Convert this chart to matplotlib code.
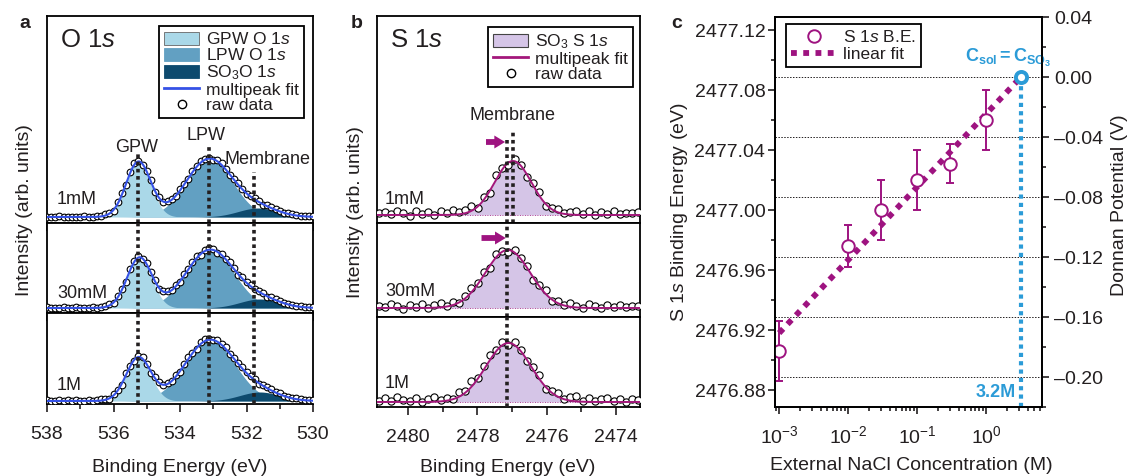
import numpy as np
import matplotlib
matplotlib.use('Agg')
import matplotlib.pyplot as plt
from matplotlib.lines import Line2D
from matplotlib.patches import Patch
from matplotlib.ticker import MultipleLocator, FuncFormatter

plt.rcParams['font.family'] = ['Liberation Sans', 'DejaVu Sans']
plt.rcParams['mathtext.fontset'] = 'custom'
plt.rcParams['mathtext.rm'] = 'Liberation Sans'
plt.rcParams['mathtext.it'] = 'Liberation Sans:italic'
plt.rcParams['mathtext.bf'] = 'Liberation Sans:bold'
plt.rcParams['text.color'] = '#231f20'
plt.rcParams['xtick.color'] = '#231f20'
plt.rcParams['ytick.color'] = '#231f20'

# ---------------- data ----------------
conc_labels = ['1mM', '30mM', '1M']

# O 1s fitted components per concentration: (center eV, height, sigma)
o_gpw = [(535.25, 55, 0.37), (535.22, 50, 0.37), (535.25, 43, 0.37)]
o_lpw = [(533.12, 58, 0.70), (533.10, 58, 0.72), (533.10, 61, 0.75)]
o_so3 = [(531.65, 9, 0.60), (531.60, 9, 0.60), (531.60, 9, 0.60)]

# O 1s raw data, as deviation from the fit (538 -> 530 eV)
o_resid = [
    [0.4, -0.3, 0.2, 0.5, -0.2, 0.3, 0.1, -0.4, 0.3, 0.6, 0.2, -0.1, 0.5,
     0.8, 1.2, 0.4, -0.8, 1.3, 1.8, -1.0, 1.5, 2.2, 0.6, -1.2, 1.0, 1.6, -0.9, 0.7, -0.5, 1.1, 0.4,
     -0.6, 1.3, 0.9, -1.1, 1.5, 0.8, 1.9, 1.2, 0.6, -0.7, 1.4, 1.7, 0.3, -0.9, 1.2, 1.5, 0.8,
     -0.4, 1.0, 1.4, 0.7, -0.3, 0.9, 1.1, 0.5, 0.2, -0.2, 0.6, 0.8, 0.4, -0.1, 0.5, 0.3, 0.6],
    [0.5, 0.2, -0.3, 0.4, 0.6, -0.1, 0.3, 0.5, -0.2, 0.4, 0.1, 0.6, 0.3,
     1.0, 0.5, 1.4, -0.6, 1.2, 0.8, -1.3, 1.6, 0.4, 1.9, -0.8, 1.1, 0.6, 1.5, -0.4, 0.9, 1.3, 0.2,
     1.0, -0.8, 1.6, 0.5, 1.2, 2.0, -0.6, 1.4, 1.8, 0.7, -0.9, 1.3, 0.6, 1.7, 1.1, -0.5, 1.5,
     0.9, 1.6, 0.4, 1.2, 0.8, -0.3, 1.0, 0.6, 0.9, 0.3, 0.7, 0.5, 0.2, 0.6, 0.4, 0.1, 0.5],
    [0.6, -0.2, 0.4, 0.8, 0.1, 0.5, -0.3, 0.7, 0.2, 0.4, 0.9, 0.3, 0.6,
     1.1, 0.4, -0.7, 1.5, 0.9, -1.1, 1.7, 0.6, -0.9, 1.3, 2.0, 0.3, -1.0, 1.4, 0.8, -0.6, 1.2, 0.5,
     1.3, -0.7, 0.9, 1.8, 0.4, -1.0, 1.6, 2.1, 0.8, -0.5, 1.4, 1.0, 1.9, -0.7, 1.3, 0.6, 1.7,
     1.2, 0.5, 1.5, -0.4, 1.1, 0.8, 1.3, 0.4, 0.9, 0.2, 0.7, 0.5, 0.8, 0.3, 0.6, 0.4, 0.7],
]
o_marks = [535.25, 533.12, 531.78]

# S 1s fitted peak per concentration: (center eV, height, sigma)
s_peak = [(2476.97, 54, 0.53), (2477.12, 58, 0.65), (2477.10, 59, 0.65)]
s_resid = [
    [1.5, 3.2, 0.5, 4.0, 2.1, -0.8, 3.5, 1.2, 2.8, 0.4, 3.9, 1.6, 4.5, 2.0, 3.3, 5.0, -1.5, 2.5,
     -3.0, 4.2, 1.0, -2.5, 2.0, 0.8, -1.8, 2.6, 3.5, -2.2, 1.5, 3.8, 0.6, 2.9, 4.1, 1.2, 3.5, 0.2,
     2.7, 1.4, 3.6, 0.8, 2.2, 1.5, 3.0],
    [2.0, 0.5, 3.6, 1.8, -1.0, 2.9, 1.2, 3.8, 0.3, 2.4, 4.2, 1.0, 3.1, -0.5, 2.6, 4.8, 1.5, 3.2,
     -2.0, 2.8, 1.2, -1.6, 3.0, 0.5, 2.2, -2.4, 1.8, 3.4, -1.2, 2.5, 0.8, 3.6, 1.4, -0.6, 4.0, 1.8,
     0.4, 2.9, 1.1, 3.3, 0.6, 2.4, 1.5],
    [1.2, 3.5, 0.8, 4.6, 2.0, 1.1, 3.8, 0.2, 2.5, 5.2, 1.4, 3.0, 0.6, 4.4, 2.2, 5.5, 1.0, 3.6,
     4.8, 1.5, 2.8, -2.2, 3.2, 1.0, -1.5, 2.4, 3.8, -2.6, 1.6, 4.0, 0.5, 3.4, 5.0, 1.2, 3.9, 0.7,
     2.6, 4.4, 1.0, 3.1, 0.4, 2.7, 1.6],
]
s_line_1mM = 2476.97
s_line_shift = 2477.14

# panel c
c_conc = [0.001, 0.01, 0.03, 0.1, 0.3, 1.0]
c_be = [2476.906, 2476.976, 2477.000, 2477.020, 2477.031, 2477.060]
c_err = [0.020, 0.014, 0.020, 0.020, 0.013, 0.020]
fit_x = [0.001, 3.2]
fit_y = [2476.918, 2477.0887]
be_zero = 2477.0887          # binding energy where Donnan potential = 0
donnan_grid = [0.0, -0.04, -0.08, -0.12, -0.16, -0.20]

# ---------------- style ----------------
c_gpw, c_lpw, c_so3, c_ofit = '#aad8e8', '#62a0c2', '#0d4a6e', '#3552e6'
c_spur, c_sfit = '#d5c5e7', '#a3177b'
mag, blue = '#9e1380', '#2b9bd7'
W, H = 1127, 476
dot = (0, (1, 1))
arrow = dict(arrowstyle='simple,head_length=0.7,head_width=0.85,tail_width=0.38',
             color=mag, lw=0, shrinkA=0, shrinkB=0, mutation_scale=11)


def rect(x0, y0, x1, y1):
    return [x0 / W, 1 - y1 / H, (x1 - x0) / W, (y1 - y0) / H]


def gauss(x, center, height, sigma):
    return height * np.exp(-0.5 * ((x - center) / sigma) ** 2)


def style_spectrum_axis(ax, xlim, show_labels):
    ax.set_xlim(*xlim)
    ax.set_yticks([])
    ax.xaxis.set_major_locator(MultipleLocator(2))
    ax.xaxis.set_minor_locator(MultipleLocator(1))
    ax.tick_params(axis='x', which='major', direction='out', length=6, width=1.2,
                   labelsize=14, pad=10, labelbottom=show_labels)
    ax.tick_params(axis='x', which='minor', direction='out', length=3.5, width=1.2)
    for s in ax.spines.values():
        s.set_linewidth(1.3)


def add_legend(ax, handles, anchor, loc='upper right', **kw):
    leg = ax.legend(handles=handles, loc=loc, bbox_to_anchor=anchor, borderaxespad=0,
                    fancybox=False, edgecolor='black', framealpha=1, fontsize=12.5,
                    handletextpad=0.4, borderpad=0.3, **kw)
    leg.get_frame().set_linewidth(1.3)
    leg.set_zorder(10)
    return leg


fig = plt.figure(figsize=(W / 100, H / 100), dpi=100)

# ---------------- panel a ----------------
o_rows = [(47, 16, 313, 223), (47, 223, 313, 313), (47, 313, 313, 404)]
o_ylims = [(-6, 201), (-5, 85), (-3, 88)]
o_text_y = [17, 14, 16]
o_mark_tops = [65, 72, 45]

for i in range(3):
    ax = fig.add_axes(rect(*o_rows[i]))
    e = np.linspace(538, 530, 600)
    lpw = gauss(e, *o_lpw[i])
    gpw = gauss(e, *o_gpw[i])
    so3 = gauss(e, *o_so3[i])
    ax.fill_between(e, 0, lpw, color=c_lpw, lw=0, zorder=1)
    ax.fill_between(e, 0, gpw, color=c_gpw, lw=0, zorder=1.1)
    ax.fill_between(e, 0, so3, color=c_so3, lw=0, zorder=1.2)

    er = np.linspace(538, 530, len(o_resid[i]))
    raw = gauss(er, *o_lpw[i]) + gauss(er, *o_gpw[i]) + gauss(er, *o_so3[i]) + np.array(o_resid[i])
    ax.plot(er, raw, 'o', mfc='white', mec='black', ms=4.8, mew=0.8, zorder=3)
    ax.plot(e, lpw + gpw + so3, color=c_ofit, lw=1.5, zorder=4)

    ylo, yhi = o_ylims[i]
    ax.set_ylim(ylo, yhi)
    for k, xm in enumerate(o_marks):
        top = 1.0 if i > 0 else (o_mark_tops[k] - ylo) / (yhi - ylo)
        ax.axvline(xm, ymin=0, ymax=top, color='#231f20', lw=2.6, ls=dot, zorder=5)
    ax.text(537.7, o_text_y[i], conc_labels[i], fontsize=13, va='center', ha='left')
    style_spectrum_axis(ax, (538, 530), i == 2)

    if i == 0:
        ax.text(537.61, 177, r'O $\mathit{1s}$', fontsize=18.5, va='center', ha='left')
        ax.text(535.3, 70, 'GPW', fontsize=13, ha='center', va='center')
        ax.text(533.23, 82, 'LPW', fontsize=13, ha='center', va='center')
        ax.text(531.37, 57, 'Membrane', fontsize=13, ha='center', va='center')
        handles = [
            Patch(facecolor=c_gpw, edgecolor='#666666', lw=0.6, label=r'GPW O $\mathit{1s}$'),
            Patch(facecolor=c_lpw, edgecolor=c_lpw, lw=0.6, label=r'LPW O $\mathit{1s}$'),
            Patch(facecolor=c_so3, edgecolor=c_so3, lw=0.6, label=r'SO$_3$O $\mathit{1s}$'),
            Line2D([], [], color=c_ofit, lw=2, label='multipeak fit'),
            Line2D([], [], marker='o', ls='none', mfc='white', mec='black', ms=6, mew=1,
                   label='raw data'),
        ]
        add_legend(ax, handles, (1 - 9 / 266, 1 - 10 / 207), handlelength=2.0,
                   handleheight=0.8, labelspacing=0.0)

fig.text(25 / W, 1 - 210 / H, 'Intensity (arb. units)', rotation=90, fontsize=14,
         ha='center', va='center')
fig.text(180 / W, 1 - 467 / H, 'Binding Energy (eV)', fontsize=14, ha='center', va='center')
fig.text(25 / W, 1 - 24 / H, 'a', fontsize=14, weight='bold', ha='center', va='center')

# ---------------- panel b ----------------
s_rows = [(377, 16, 640, 223), (377, 223, 640, 317), (377, 317, 640, 407)]
s_ylims = [(-8, 199), (-9, 85), (-5, 85)]
s_text_y = [15, 16, 19]
s_xlim = (2480.9, 2473.3)

for i in range(3):
    ax = fig.add_axes(rect(*s_rows[i]))
    e = np.linspace(s_xlim[0], s_xlim[1], 600)
    peak = gauss(e, *s_peak[i])
    ax.fill_between(e, 0, peak, color=c_spur, lw=0, zorder=1)
    ax.axhline(0, color=c_sfit, lw=0.6, ls=(0, (1, 2)), zorder=1.5)

    er = np.linspace(s_xlim[0] - 0.05, s_xlim[1] + 0.05, len(s_resid[i]))
    raw = gauss(er, *s_peak[i]) + np.array(s_resid[i])
    ax.plot(er, raw, 'o', mfc='white', mec='black', ms=5.2, mew=0.8, zorder=3)
    ax.plot(e, peak, color=c_sfit, lw=1.4, zorder=4)

    ylo, yhi = s_ylims[i]
    ax.set_ylim(ylo, yhi)
    if i == 0:
        ax.axvline(s_line_1mM, ymin=0, ymax=(83 - ylo) / (yhi - ylo), color='#231f20', lw=2.6,
                   ls=dot, zorder=5)
        ax.axvline(s_line_shift, ymin=0, ymax=(75 - ylo) / (yhi - ylo), color='#231f20', lw=2.6,
                   ls=dot, zorder=5)
        ax.annotate('', xy=(2477.20, 73), xytext=(2477.75, 73), arrowprops=arrow)
        ax.text(s_line_1mM, 100, 'Membrane', fontsize=13, ha='center', va='center')
        ax.text(2480.52, 175, r'S $\mathit{1s}$', fontsize=18.5, va='center', ha='left')
        handles = [
            Patch(facecolor=c_spur, edgecolor='#444444', lw=0.8, label=r'SO$_3$ S $\mathit{1s}$'),
            Line2D([], [], color=c_sfit, lw=2, label='multipeak fit'),
            Line2D([], [], marker='o', ls='none', mfc='white', mec='black', ms=6, mew=1,
                   label='raw data'),
        ]
        add_legend(ax, handles, (1 - 7 / 263, 1 - 11 / 207), handlelength=2.0,
                   handleheight=0.8, labelspacing=0.0)
    else:
        ax.axvline(s_line_shift, color='#231f20', lw=2.6, ls=dot, zorder=5)
    if i == 1:
        ax.annotate('', xy=(2477.18, 70), xytext=(2477.88, 70), arrowprops=arrow)
    ax.text(2480.67, s_text_y[i], conc_labels[i], fontsize=13, va='center', ha='left')
    style_spectrum_axis(ax, s_xlim, i == 2)

fig.text(355 / W, 1 - 212 / H, 'Intensity (arb. units)', rotation=90, fontsize=14,
         ha='center', va='center')
fig.text(508 / W, 1 - 467 / H, 'Binding Energy (eV)', fontsize=14, ha='center', va='center')
fig.text(357 / W, 1 - 24 / H, 'b', fontsize=14, weight='bold', ha='center', va='center')

# ---------------- panel c ----------------
ax = fig.add_axes(rect(775, 17, 1042, 407))
ax.set_xscale('log')
ax.set_xlim(10 ** -3.06, 10 ** 0.81)
ylo, yhi = be_zero - 0.22, be_zero + 0.04
ax.set_ylim(ylo, yhi)

for v in donnan_grid:
    ax.axhline(be_zero + v, color='#231f20', lw=0.7, ls=(0, (1.5, 1.5)), zorder=1)

ax.plot([3.2, 3.2], [ylo, be_zero], color=blue, lw=3, ls=dot, zorder=2)
ax.plot(fit_x, fit_y, color=mag, lw=4.2, ls=(0, (1, 1.1)), zorder=3)
ax.errorbar(c_conc, c_be, yerr=c_err, fmt='o', mfc='white', mec=mag, ecolor=mag, ms=9,
            mew=1.4, elinewidth=1.4, capsize=3, capthick=1.4, zorder=4)
ax.plot(3.2, be_zero, 'o', mfc='white', mec=blue, ms=8, mew=2.8, zorder=5)

ax.annotate(r'$\mathbf{C_{sol}{=}C_{SO_3}}$', xy=(3.2, be_zero), xytext=(-9, 14),
            textcoords='offset points', ha='center', va='center', color=blue, fontsize=13)
ax.annotate('3.2M', xy=(3.2, ylo), xytext=(-4, 4), textcoords='offset points', ha='right',
            va='bottom', color=blue, fontsize=13, weight='bold')

ax.yaxis.set_major_locator(MultipleLocator(0.04))
ax.yaxis.set_minor_locator(MultipleLocator(0.02))
ax.yaxis.set_major_formatter(FuncFormatter(lambda v, p: f'{v:.2f}'))
ax.tick_params(which='both', direction='out', top=False, right=False, width=1.2)
ax.tick_params(which='major', length=5, labelsize=14)
ax.tick_params(axis='y', which='major', pad=2)
ax.tick_params(axis='x', which='major', pad=8)
ax.tick_params(which='minor', length=3)
for s in ax.spines.values():
    s.set_linewidth(1.3)

ax2 = ax.twinx()
ax2.set_ylim(-0.22, 0.04)
ax2.yaxis.set_major_locator(MultipleLocator(0.04))
ax2.yaxis.set_minor_locator(MultipleLocator(0.02))


def donnan_fmt(v, p):
    v = 0.0 if abs(v) < 1e-9 else v
    return f'{v:.2f}'.replace('-', '\u2013')


ax2.yaxis.set_major_formatter(FuncFormatter(donnan_fmt))
ax2.tick_params(which='both', direction='out', width=1.2)
ax2.tick_params(which='major', length=5, labelsize=14, pad=4)
ax2.tick_params(which='minor', length=3)
for s in ax2.spines.values():
    s.set_linewidth(1.3)

handles = [
    Line2D([], [], marker='o', ls='none', mfc='white', mec=mag, ms=9, mew=1.4,
           label=r'S $\mathit{1s}$ B.E.'),
    Line2D([], [], color=mag, lw=4.2, ls=(0, (1, 1.1)), label='linear fit'),
]
add_legend(ax, handles, (11 / 267, 1 - 7 / 390), loc='upper left', handlelength=2.6,
           labelspacing=0.1)

fig.text(680 / W, 1 - 212 / H, r'S $\mathit{1s}$ Binding Energy (eV)', rotation=90, fontsize=14,
         ha='center', va='center')
fig.text(1119 / W, 1 - 205 / H, 'Donnan Potential (V)', rotation=90, fontsize=14,
         ha='center', va='center')
fig.text(911 / W, 1 - 465 / H, 'External NaCl Concentration (M)', fontsize=14, ha='center',
         va='center')
fig.text(677 / W, 1 - 24 / H, 'c', fontsize=14, weight='bold', ha='center', va='center')

fig.savefig('out.png', dpi=100)
